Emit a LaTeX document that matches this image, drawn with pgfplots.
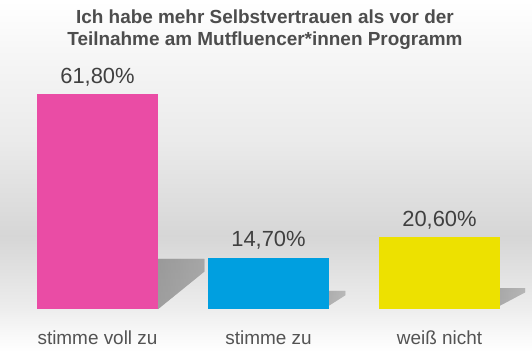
\documentclass[border=0pt]{standalone}
\usepackage{pgfplots}
\pgfplotsset{compat=1.18}
\usepackage{fontspec}
\setmainfont{Liberation Sans}
\definecolor{cpink}{HTML}{EA4CA5}
\definecolor{cblue}{HTML}{009FE0}
\definecolor{cyellow}{HTML}{EDE100}
\definecolor{ctext}{HTML}{404040}
\definecolor{ctitle}{HTML}{4D4D4D}
\pgfdeclareverticalshading{bgshade}{100bp}{%
  color(0bp)=(white);
  color(25bp)=(white);
  color(28bp)=(white!97!black);
  color(31bp)=(white!93!black);
  color(41.5bp)=(white!84!black);
  color(55bp)=(white!92!black);
  color(66bp)=(white!96!black);
  color(75bp)=(white);
  color(100bp)=(white)}
\begin{document}
\begin{tikzpicture}[x=1bp,y=1bp]
\begin{axis}[
  at={(0,0)}, anchor=south west,
  scale only axis, width=532bp, height=352bp,
  xmin=-0.5702, xmax=2.5409,
  ymin=-12.36, ymax=88.8,
  axis line style={draw=none},
  major tick length=0pt,
  ytick=\empty,
  axis background/.style={shading=bgshade},
  ybar, bar shift=0pt, bar width=121bp,
  clip=false,
  xtick={0,1,2},
  xticklabels={stimme voll zu, stimme zu, weiß nicht},
  xticklabel style={anchor=base, yshift=8bp, font=\fontsize{19}{22}\selectfont, text=ctext!90},
  point meta=explicit symbolic,
  nodes near coords,
  every node near coord/.append style={anchor=base, yshift=11bp, font=\fontsize{22}{24}\selectfont, text=ctext},
  title={Ich habe mehr Selbstvertrauen als vor der\\Teilnahme am Mutfluencer*innen Programm},
  title style={at={(0.498,1)}, anchor=north, yshift=-15bp, inner sep=0pt, align=center,
    font=\bfseries\fontsize{19}{23}\selectfont, text=ctitle},
]
\fill[left color=black!24, right color=black!13, opacity=0.45]
  (axis cs:0.354,0) -- (axis cs:0.354,14.4) -- (axis cs:0.625,14.4) -- (axis cs:0.625,10.8) -- cycle;
\fill[left color=black!20, right color=black!6, opacity=0.3]
  (axis cs:1.354,1) -- (axis cs:1.354,5.2) -- (axis cs:1.45,5.2) -- (axis cs:1.45,4) -- cycle;
\fill[left color=black!20, right color=black!6, opacity=0.35]
  (axis cs:2.354,1) -- (axis cs:2.354,6) -- (axis cs:2.5,6) -- (axis cs:2.5,4.8) -- cycle;
\addplot[draw=none, fill=cpink] coordinates {(0,61.8) [61,80\%]};
\addplot[draw=none, fill=cblue] coordinates {(1,14.7) [14,70\%]};
\addplot[draw=none, fill=cyellow] coordinates {(2,20.6) [20,60\%]};
\end{axis}
\end{tikzpicture}
\end{document}
